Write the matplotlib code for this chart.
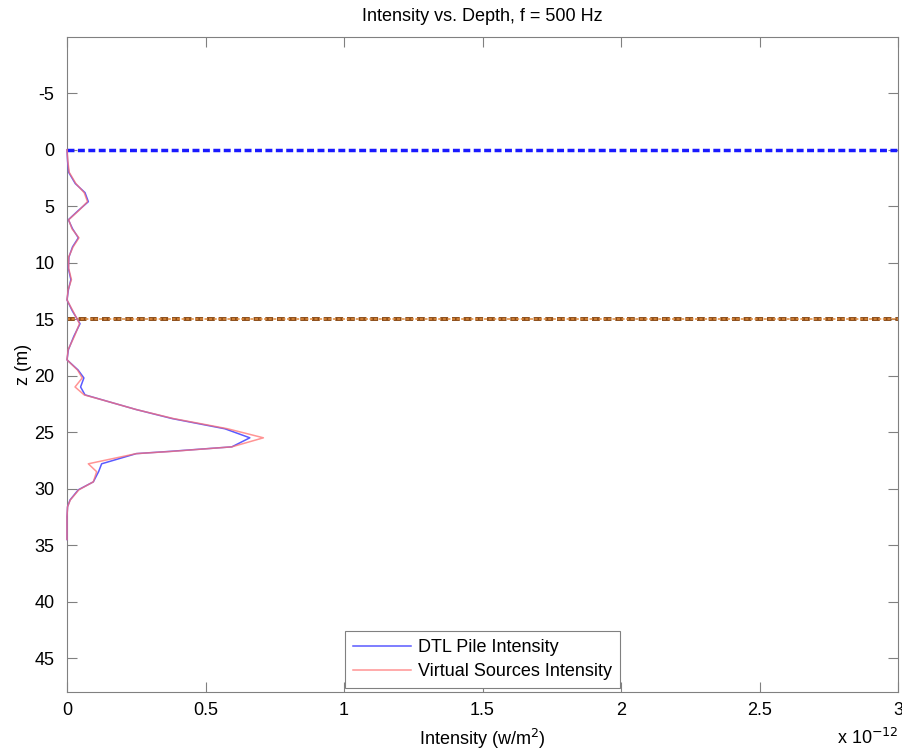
import matplotlib.pyplot as plt
import numpy as np

plt.rcParams['font.family'] = ['Liberation Sans', 'DejaVu Sans']
plt.rcParams['axes.unicode_minus'] = False

# depth (m)
z = [0, 1, 2, 3, 3.8, 4.6, 5.4, 6.2, 7, 7.8, 8.6, 9.5, 10.5, 11.5, 12.4,
     13.3, 14.3, 15.4, 16.5, 17.7, 18.6, 19.5, 20.2, 21, 21.7, 22.3, 23.0,
     23.8, 24.7, 25.5, 26.3, 26.7, 26.9, 27.8, 28.5, 29.4, 30.1, 31.0, 31.6,
     32.5, 33.5, 34.5]
# intensity in units of 1e-12 w/m^2
dtl = [0, 0.002, 0.006, 0.03, 0.065, 0.077, 0.04, 0.005, 0.02, 0.041, 0.02,
       0.007, 0.005, 0.014, 0.005, 0.0, 0.02, 0.047, 0.025, 0.005, 0.0, 0.04,
       0.061, 0.049, 0.065, 0.15, 0.25, 0.38, 0.57, 0.66, 0.595, 0.372, 0.25,
       0.125, 0.114, 0.095, 0.041, 0.011, 0.002, 0, 0, 0]
virt = [0, 0.003, 0.008, 0.032, 0.062, 0.074, 0.042, 0.006, 0.018, 0.043,
        0.022, 0.006, 0.006, 0.016, 0.004, 0.0, 0.022, 0.045, 0.027, 0.004,
        0.0, 0.038, 0.055, 0.029, 0.062, 0.15, 0.25, 0.385, 0.58, 0.709,
        0.595, 0.38, 0.25, 0.077, 0.107, 0.095, 0.043, 0.012, 0.002, 0, 0, 0]
lines_z = [0, 15]

fig = plt.figure(figsize=(9.03, 7.54), dpi=100)
ax = fig.add_axes([0.0742, 0.0822, 0.9203, 0.8691])

# 水平虛線
ax.axhline(lines_z[0], color='#1a1aff', ls=(0, (2, 1)), lw=2.5)
ax.axhline(lines_z[1], color='#8a4a15', ls=(0, (2, 1)), lw=2.8)
ax.axhline(lines_z[1], color='#e08a3c', ls=(0, (2, 1)), lw=1.1)

ax.plot(dtl, z, color='#5a5aff', lw=1.1, label='DTL Pile Intensity',
        clip_on=False, zorder=4)
ax.plot(virt, z, color='#ff7070', lw=1.1, alpha=0.75,
        label='Virtual Sources Intensity', clip_on=False, zorder=5)

ax.set_xlim(0, 3)
ax.set_ylim(48, -10)
ax.set_xticks(np.arange(0, 3.01, 0.5))
ax.set_xticklabels(['0', '0.5', '1', '1.5', '2', '2.5', '3'])
ax.set_yticks(np.arange(-5, 46, 5))
ax.tick_params(direction='in', length=7, color='#808080', labelsize=13,
               top=True, right=True)
ax.tick_params(axis='x', pad=7)
ax.tick_params(axis='y', pad=9)
for s in ax.spines.values():
    s.set_color('#808080')

ax.set_title('Intensity vs. Depth, f = 500 Hz', fontsize=13, pad=11)
ax.set_xlabel('Intensity (w/m$^2$)', fontsize=13, labelpad=6)
ax.set_ylabel('z (m)', fontsize=13, labelpad=2)
ax.text(1.0, -0.07, r'x 10$^{-12}$', transform=ax.transAxes, ha='right',
        va='center', fontsize=13)

leg = ax.legend(loc='lower center', bbox_to_anchor=(0.5, 0.0), fontsize=13,
                fancybox=False, framealpha=1, edgecolor='#808080',
                handlelength=3.2, handletextpad=0.4, borderpad=0.45,
                labelspacing=0.4, borderaxespad=0.2)
leg.get_frame().set_linewidth(0.8)

fig.savefig('out.png')
